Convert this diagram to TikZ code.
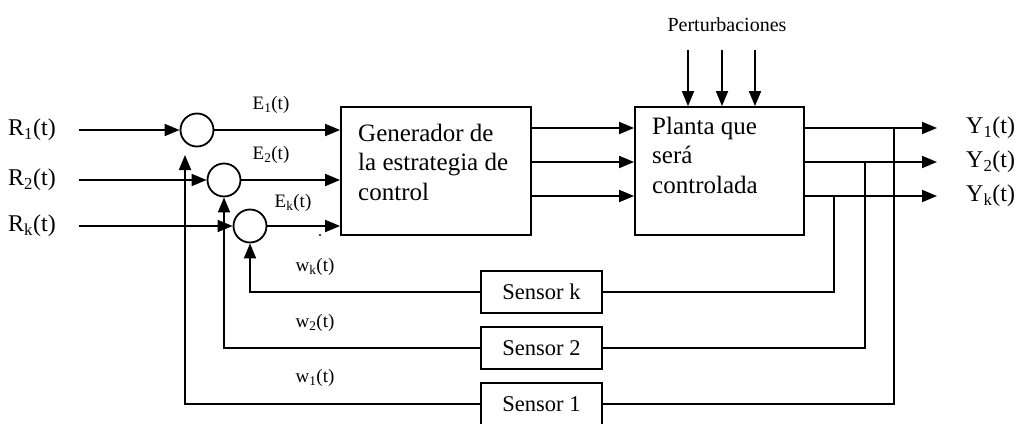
\documentclass[tikz,border=0pt]{standalone}
\usepackage{fontspec}
\setmainfont{Liberation Serif}
\usetikzlibrary{arrows.meta}
\tikzset{
  wire/.style={line width=1.8pt},
  sig/.style={wire, -{Triangle[length=15pt,width=12pt]}},
  blockbox/.style={draw, line width=1.8pt, inner sep=0pt},
  sumnode/.style={draw, circle, line width=1.8pt, minimum size=33pt, inner sep=0pt},
  sensorbox/.style={draw, line width=1.8pt, minimum width=121pt, minimum height=42pt,
    inner sep=0pt, font=\fontsize{22.5}{27}\selectfont},
  bigtext/.style={font=\fontsize{25}{29.5}\selectfont, align=left, inner sep=0pt},
  iolabel/.style={font=\fontsize{24}{28}\selectfont, inner sep=0pt},
  smalllabel/.style={font=\fontsize{19}{22}\selectfont, inner sep=0pt},
}
\begin{document}
\begin{tikzpicture}[x=1pt, y=-1pt]
  \useasboundingbox (0,0) rectangle (1020,423);

  % main blocks
  \node[blockbox, minimum width=190pt, minimum height=128pt] (gen) at (436,171) {};
  \node[blockbox, minimum width=169pt, minimum height=128pt] (plant) at (719.5,171) {};
  \node[bigtext, anchor=west] (gentxt) at (358,162) {Generador de\\la estrategia de\\control};
  \node[bigtext, anchor=west] (planttxt) at (652,155) {Planta que\\será\\controlada};

  % summing junctions
  \node[sumnode] (c1) at (197,130) {};
  \node[sumnode] (c2) at (224,180) {};
  \node[sumnode] (c3) at (250,226) {};

  % sensors
  \node[sensorbox] (sk) at (541.5,292) {Sensor k};
  \node[sensorbox] (sb) at (541.5,348) {Sensor 2};
  \node[sensorbox] (sa) at (541.5,404) {Sensor 1};

  % reference inputs
  \coordinate (r1) at (79,130);
  \coordinate (r2) at (79,180);
  \coordinate (rk) at (79,226);
  \node[iolabel, anchor=west] (lr1) at (8,130) {R\textsubscript{1}(t)};
  \node[iolabel, anchor=west] (lr2) at (8,180) {R\textsubscript{2}(t)};
  \node[iolabel, anchor=west] (lrk) at (8,226) {R\textsubscript{k}(t)};
  \draw[sig] (r1) -- (c1);
  \draw[sig] (r2) -- (c2);
  \draw[sig] (rk) -- (c3);

  % error signals into the controller
  \draw[sig] (c1) -- (gen.west |- c1);
  \draw[sig] (c2) -- (gen.west |- c2);
  \draw[sig] (c3) -- (gen.west |- c3);
  \node[smalllabel] (le1) at (271,105) {E\textsubscript{1}(t)};
  \node[smalllabel] (le2) at (271,155) {E\textsubscript{2}(t)};
  \node[smalllabel] (lek) at (293,203) {E\textsubscript{k}(t)};
  \fill (320,235) circle (1.2pt);

  % control signals into the plant
  \coordinate (u1) at (gen.east |- 0,128);
  \coordinate (u2) at (gen.east |- 0,162);
  \coordinate (u3) at (gen.east |- 0,196);
  \draw[sig] (u1) -- (u1 -| plant.west);
  \draw[sig] (u2) -- (u2 -| plant.west);
  \draw[sig] (u3) -- (u3 -| plant.west);

  % disturbances
  \node[font=\fontsize{20}{24}\selectfont, inner sep=0pt] (pert) at (727,25) {Perturbaciones};
  \coordinate (p1) at (688,50);
  \coordinate (p2) at (722,50);
  \coordinate (p3) at (755,50);
  \draw[sig] (p1) -- (p1 |- plant.north);
  \draw[sig] (p2) -- (p2 |- plant.north);
  \draw[sig] (p3) -- (p3 |- plant.north);

  % plant outputs
  \coordinate (y1) at (937,128);
  \coordinate (y2) at (937,162);
  \coordinate (yk) at (937,196);
  \draw[sig] (y1 -| plant.east) -- (y1);
  \draw[sig] (y2 -| plant.east) -- (y2);
  \draw[sig] (yk -| plant.east) -- (yk);
  \node[iolabel, anchor=west] (ly1) at (966,128) {Y\textsubscript{1}(t)};
  \node[iolabel, anchor=west] (ly2) at (966,162) {Y\textsubscript{2}(t)};
  \node[iolabel, anchor=west] (lyk) at (966,196) {Y\textsubscript{k}(t)};

  % output taps into the sensors
  \coordinate (t1) at (894,128);
  \coordinate (t2) at (865,162);
  \coordinate (tk) at (834,196);
  \draw[wire] (t1) |- (sa.east);
  \draw[wire] (t2) |- (sb.east);
  \draw[wire] (tk) |- (sk.east);

  % measured signals back to the junctions
  \coordinate (f1) at (185,155);
  \draw[sig] (sa.west) -| (f1);
  \draw[sig] (sb.west) -| (c2.south);
  \draw[sig] (sk.west) -| (c3.south);
  \node[smalllabel] (lwk) at (315,267) {w\textsubscript{k}(t)};
  \node[smalllabel] (lw2) at (315,323) {w\textsubscript{2}(t)};
  \node[smalllabel] (lw1) at (315,378) {w\textsubscript{1}(t)};
\end{tikzpicture}
\end{document}
